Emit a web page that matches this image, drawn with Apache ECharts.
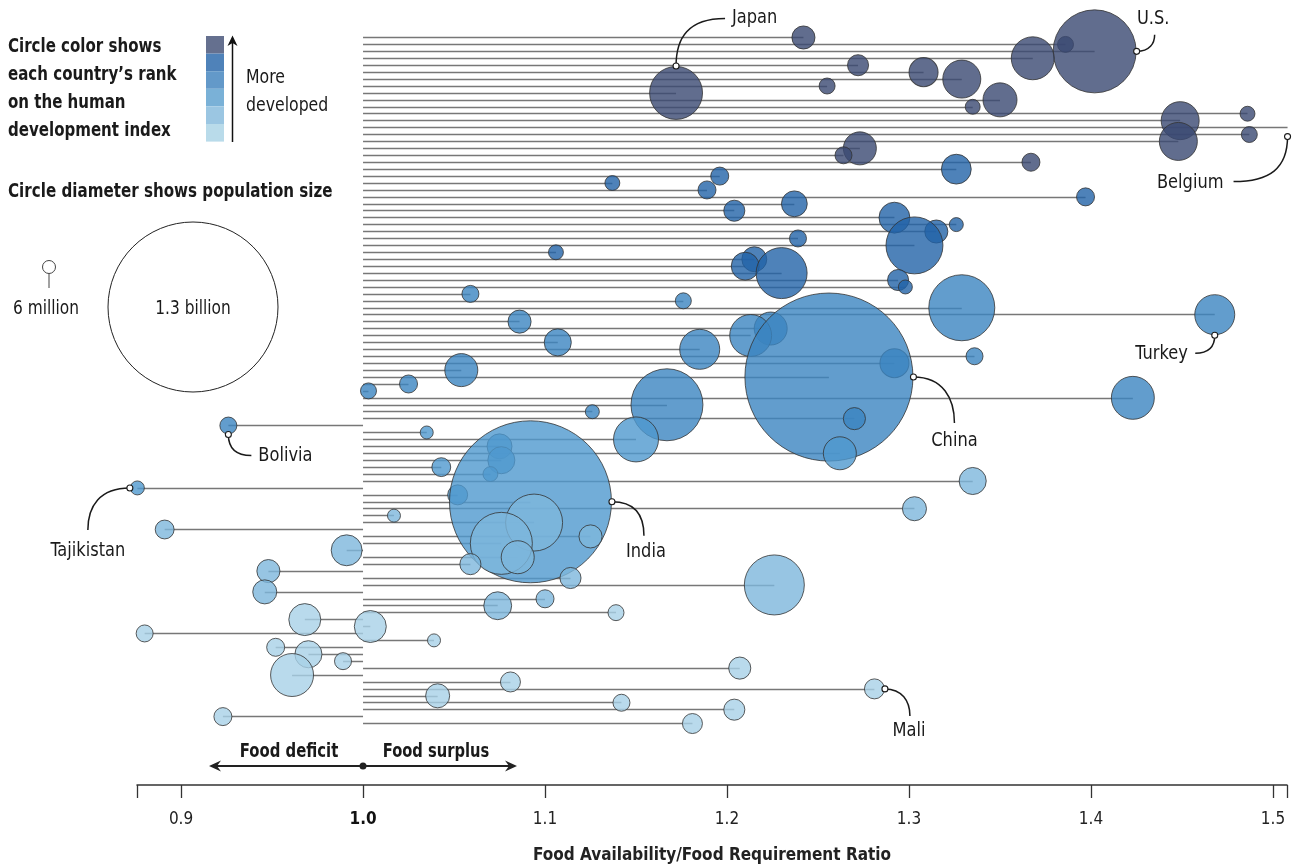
<!DOCTYPE html>
<html><head><meta charset="utf-8">
<script src="https://cdn.jsdelivr.net/npm/echarts@6/dist/echarts.min.js"></script>
<style>html,body{margin:0;padding:0;background:#fff}#c{width:1299px;height:867px}</style>
</head><body><div id="c"></div>
<script>
// Food availability / requirement ratio, one row per country (top to bottom)
const ratio = [
1.242, 1.386, 1.402, 1.368, 1.272, 1.308, 1.329, 1.255, 1.172, 1.350,
1.335, 1.486, 1.449, 1.508, 1.487, 1.448, 1.273, 1.264, 1.367, 1.326,
1.196, 1.137, 1.189, 1.397, 1.237, 1.204, 1.292, 1.326, 1.315, 1.239,
1.303, 1.106, 1.215, 1.210, 1.230, 1.294, 1.298, 1.059, 1.176, 1.329,
1.468, 1.086, 1.224, 1.213, 1.107, 1.185, 1.336, 1.292, 1.054, 1.256,
1.025, 1.003, 1.423, 1.167, 1.126, 1.270, 0.926, 1.035, 1.150, 1.075,
1.262, 1.076, 1.043, 1.070, 1.335, 0.876, 1.052, 1.092, 1.303, 1.017,
1.094, 0.891, 1.125, 1.076, 0.991, 1.085, 1.059, 0.948, 1.114, 1.226,
0.946, 1.100, 1.074, 1.139, 0.968, 1.004, 0.880, 1.039, 0.952, 0.970,
0.989, 1.207, 0.961, 1.081, 1.281, 1.041, 1.142, 1.204, 0.923, 1.181];
// Population, millions
const population = [
24, 11.5, 310, 83, 20, 38, 65, 11.5, 126, 52,
10, 10, 65, 13, 11.5, 65, 49, 13, 14.6, 40,
14.6, 10, 14.6, 14.6, 30, 20, 43, 8.8, 24, 13,
146, 10, 28, 35, 117, 20, 8.8, 13, 11.5, 196,
72, 24, 49, 79, 33, 72, 13, 38, 49, 1270,
14.6, 11.5, 83, 233, 8.8, 22, 13, 7.6, 91, 28,
49, 33, 16, 10, 33, 8.8, 18, 1180, 26, 7.6,
146, 16, 24, 173, 43, 49, 20, 24, 20, 162,
26, 14.6, 35, 11.5, 46, 46, 13, 7.6, 14.6, 33,
13, 22, 83, 18, 18, 26, 13, 20, 14.6, 18];
// Human development index rank group (1 = most developed ... 6 = least)
const hdiGroup = [
1,1,1,1,1,1,1,1,1,1, 1,1,1,1,1,1,1,1,1,2,
2,2,2,2,2,2,2,2,2,2, 2,2,2,2,2,2,2,3,3,3,
3,3,3,3,3,3,3,3,3,3, 3,3,3,3,3,3,3,4,4,4,
4,4,4,4,5,4,4,4,5,5, 5,5,5,5,5,5,5,5,5,5,
5,5,5,6,6,6,6,6,6,6, 6,6,6,6,6,6,6,6,6,6];
const tickLabels = [0.9, 1.0, 1.1, 1.2, 1.3, 1.4, 1.5];
const callouts = [
  {name:'Japan', row:8},{name:'U.S.', row:2},{name:'Belgium', row:13},
  {name:'Turkey', row:40},{name:'China', row:49},{name:'India', row:67},
  {name:'Bolivia', row:56},{name:'Tajikistan', row:65},{name:'Mali', row:94}];

const fillColors = ['#3a4872','#2263a8','#3b84c0','#4f99ce','#7db6dc','#a7d1e7'];
const swatchColors = ['#65708f','#4f82b9','#6399c9','#7ab1d7','#9bc6e2','#b9dbea'];
const F = '"Liberation Sans Narrow","DejaVu Sans Condensed","Roboto Condensed",Roboto,sans-serif';
const XMIN = 0.8758, XMAX = 1.5077;
const sizeOf = p => 170 * Math.sqrt(p / 1300);

const chart = echarts.init(document.getElementById('c'));
const option = {
  backgroundColor: '#fff',
  animation: false,
  grid: {left: 137, right: 12, top: 30, bottom: 82, outerBoundsMode: 'none', containLabel: false},
  xAxis: {
    type: 'value', min: XMIN, max: XMAX, position: 'bottom',
    axisLine: {show: true, onZero: false, lineStyle: {color: '#333', width: 1.5}},
    axisTick: {show: true, length: 13, customValues: [XMIN].concat(tickLabels, [XMAX]),
      lineStyle: {color: '#333', width: 1.3}},
    axisLabel: {customValues: tickLabels, margin: 26, fontSize: 17, color: '#222', fontFamily: F,
      formatter: v => Math.abs(v - 1) < 1e-9 ? '{b|1.0}' : v.toFixed(1),
      rich: {b: {fontWeight: 'bold', fontSize: 17, fontFamily: F, color: '#111'}}},
    splitLine: {show: false},
    name: 'Food Availability/Food Requirement Ratio', nameLocation: 'middle', nameGap: 62,
    nameTextStyle: {fontSize: 17, fontWeight: 'bold', fontFamily: F, color: '#222'}
  },
  yAxis: {type: 'value', inverse: true, min: -1.082, max: 107.87, show: false},
  series: [
    {type: 'lines', coordinateSystem: 'cartesian2d', z: 1, silent: true,
     lineStyle: {color: '#777', width: 1.3, opacity: 1},
     data: ratio.map((v, i) => ({coords: [[1, i], [v, i]]}))},
    {type: 'scatter', z: 2, silent: true,
     data: ratio.map((v, i) => [v, i, population[i], hdiGroup[i]]),
     symbolSize: d => sizeOf(d[2]),
     itemStyle: {color: p => fillColors[p.data[3] - 1], opacity: 0.8, borderColor: '#333', borderWidth: 1}}
  ]
};
chart.setOption(option);

// ---- annotations ----
const g = [];
const txt = (x, y, s, o) => g.push({type: 'text', x, y, silent: true, scaleX: o.sx || 1,
  style: {text: s, fill: '#1a1a1a', font: (o.bold ? 'bold ' : '') + (o.size || 18) + 'px ' + F,
    align: o.align || 'left', verticalAlign: 'middle'}});
['Circle color shows', 'each country\u2019s rank', 'on the human', 'development index']
  .forEach((s, k) => txt(8, 47 + k * 28, s, {bold: true, size: 19, sx: 0.88}));
swatchColors.forEach((c, k) => g.push({type: 'rect', silent: true, shape: {x: 206, y: 36 + k * 17.6, width: 18, height: 17.6}, style: {fill: c}}));
g.push({type: 'line', silent: true, shape: {x1: 232.5, y1: 42, x2: 232.5, y2: 142}, style: {stroke: '#111', lineWidth: 1.5}});
g.push({type: 'polygon', silent: true, shape: {points: [[232.5, 35.5], [227.5, 46], [232.5, 43], [237.5, 46]]}, style: {fill: '#111'}});
txt(246, 78, 'More', {size: 19, sx: 0.92});
txt(246, 106, 'developed', {size: 19, sx: 0.92});
txt(8, 192, 'Circle diameter shows population size', {bold: true, size: 19, sx: 0.885});
g.push({type: 'circle', silent: true, shape: {cx: 49, cy: 267, r: 6.5}, style: {fill: '#fff', stroke: '#444', lineWidth: 1}});
g.push({type: 'line', silent: true, shape: {x1: 49, y1: 273.5, x2: 49, y2: 288}, style: {stroke: '#444', lineWidth: 1}});
txt(46, 309, '6 million', {align: 'center', size: 19, sx: 0.9});
g.push({type: 'circle', silent: true, shape: {cx: 193, cy: 307, r: 85}, style: {fill: 'none', stroke: '#222', lineWidth: 1}});
txt(193, 309, '1.3 billion', {align: 'center', size: 19, sx: 0.9});
txt(289, 752, 'Food deficit', {align: 'center', bold: true, size: 19, sx: 0.87});
txt(436, 752, 'Food surplus', {align: 'center', bold: true, size: 19, sx: 0.86});
g.push({type: 'line', silent: true, shape: {x1: 216, y1: 766, x2: 510, y2: 766}, style: {stroke: '#222', lineWidth: 1.8}});
g.push({type: 'polygon', silent: true, shape: {points: [[209, 766], [221, 760.5], [217, 766], [221, 771.5]]}, style: {fill: '#222'}});
g.push({type: 'polygon', silent: true, shape: {points: [[517, 766], [505, 760.5], [509, 766], [505, 771.5]]}, style: {fill: '#222'}});
g.push({type: 'circle', silent: true, shape: {cx: 363, cy: 766, r: 3.5}, style: {fill: '#222'}});

// callout geometry relative to circle-edge anchor
const geom = {
  'Japan':     {ang: -90, end: [49, -47.5], c1: [0, -28], c2: [12, -47.5], lab: [56, -47.5], al: 'left'},
  'U.S.':      {ang: 0,   end: [18, -16.7], c1: [13, 0], c2: [18, -8], lab: [16.5, -32.7], al: 'center'},
  'Belgium':   {ang: 90,  end: [-54, 45], c1: [0, 32], c2: [-18, 45], lab: [-64, 46], al: 'right'},
  'Turkey':    {ang: 90,  end: [-19.5, 18], c1: [0, 13], c2: [-7, 18], lab: [-27, 18.5], al: 'right'},
  'China':     {ang: 0,   end: [41, 46], c1: [30, 0], c2: [41, 22], lab: [41, 64], al: 'center'},
  'India':     {ang: 0,   end: [32, 34], c1: [24, 0], c2: [32, 14], lab: [34, 50], al: 'center'},
  'Bolivia':   {ang: 90,  end: [23, 21], c1: [0, 14], c2: [8, 21], lab: [30, 21.5], al: 'left'},
  'Tajikistan':{ang: 180, end: [-42, 42], c1: [-30, 0], c2: [-42, 18], lab: [-42, 63], al: 'center'},
  'Mali':      {ang: 0,   end: [25, 27], c1: [17, 0], c2: [25, 12], lab: [24, 42], al: 'center'}
};
callouts.forEach(c => {
  const p = chart.convertToPixel({gridIndex: 0}, [ratio[c.row], c.row]);
  const r = sizeOf(population[c.row]) / 2 + 0.5;
  const m = geom[c.name], a = m.ang * Math.PI / 180;
  const ax = p[0] + r * Math.cos(a), ay = p[1] + r * Math.sin(a);
  g.push({type: 'bezierCurve', silent: true, z: 10,
    shape: {x1: ax, y1: ay, x2: ax + m.end[0], y2: ay + m.end[1],
      cpx1: ax + m.c1[0], cpy1: ay + m.c1[1], cpx2: ax + m.c2[0], cpy2: ay + m.c2[1]},
    style: {stroke: '#1a1a1a', lineWidth: 1.5, fill: 'none'}});
  g.push({type: 'circle', silent: true, z: 11, shape: {cx: ax, cy: ay, r: 3}, style: {fill: '#fff', stroke: '#1a1a1a', lineWidth: 1.1}});
  g.push({type: 'text', silent: true, z: 11, x: ax + m.lab[0], y: ay + m.lab[1], scaleX: 0.95,
    style: {text: c.name, fill: '#1a1a1a', font: '19px ' + F, align: m.al, verticalAlign: 'middle'}});
});
chart.setOption({graphic: g});
</script></body></html>
